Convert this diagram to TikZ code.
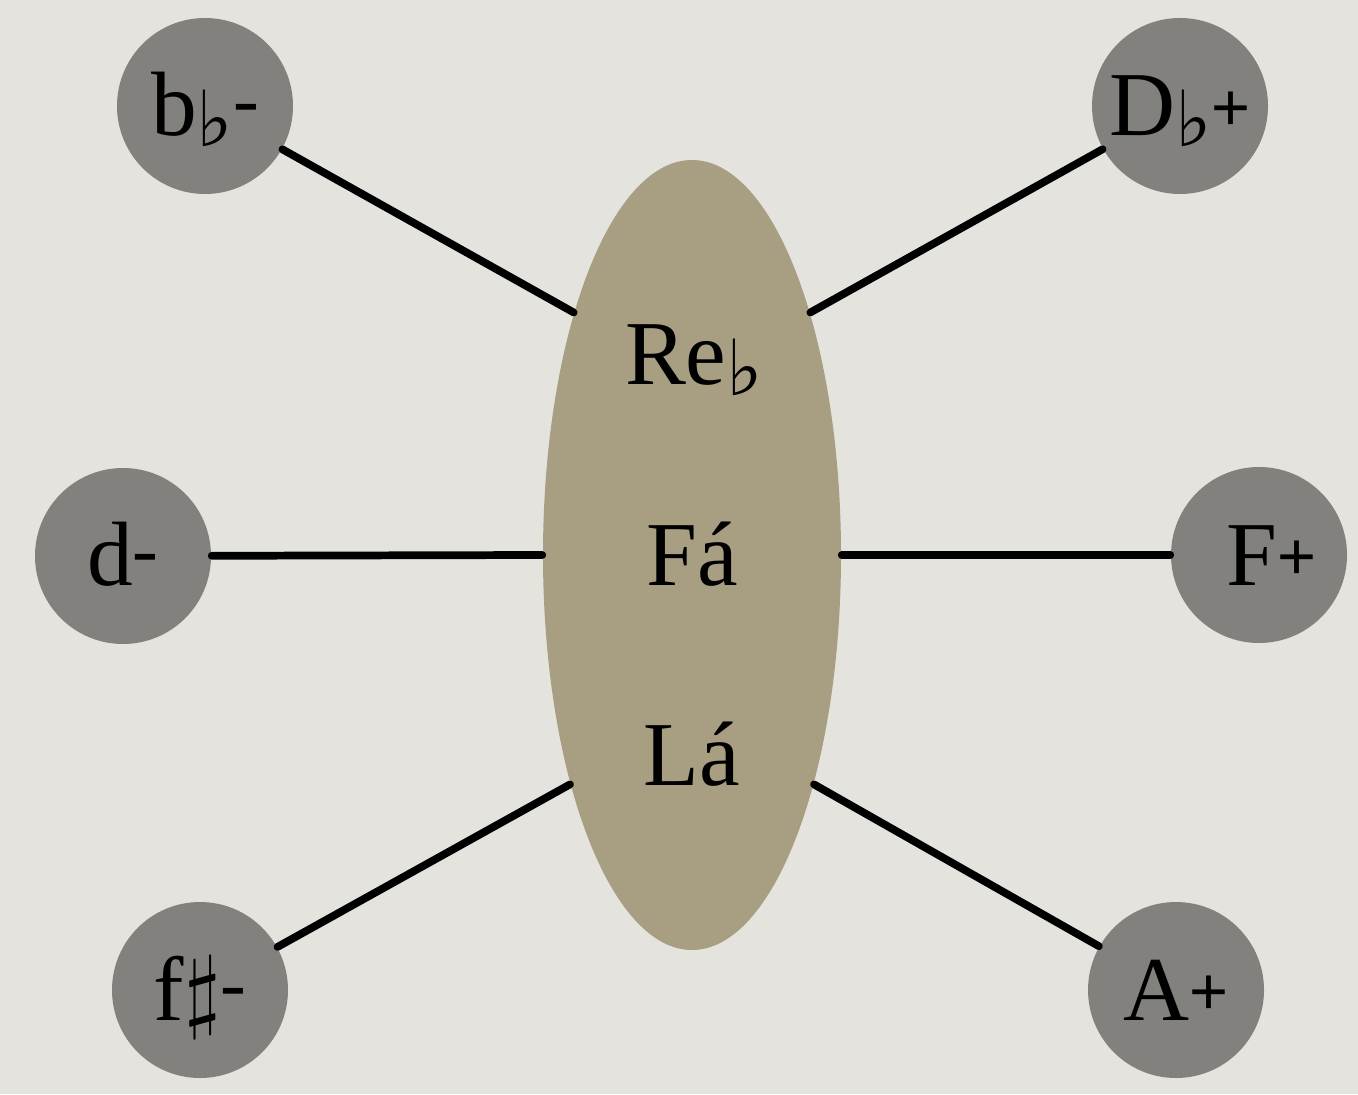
\documentclass[tikz,border=0pt]{standalone}
\usepackage{fontspec}
\usepackage{graphicx}
\setmainfont{Liberation Serif}
\newfontfamily\musicfont{DejaVu Sans}
\newfontfamily\signfont{Liberation Sans}
\usetikzlibrary{shapes.geometric}
\newcommand\flt{\raisebox{-3pt}{\musicfont\fontsize{22}{22}\selectfont ♭}}
\newcommand\shp{\raisebox{0pt}{\fontsize{24.88}{28}\selectfont\scalebox{1.1}[1.05]{$\sharp$}}}
\newcommand\mn{\raisebox{3pt}{\fontsize{22}{22}\selectfont -}}
\newcommand\pl{\raisebox{1.5pt}{\signfont\fontsize{19}{19}\selectfont +}}
\definecolor{paper}{HTML}{E5E3DE}
\definecolor{keygray}{HTML}{83817D}
\definecolor{chordtan}{HTML}{A89E82}
\begin{document}
\begin{tikzpicture}[x=1cm,y=1cm,font=\fontsize{26}{30}\selectfont,
  key/.style={circle, fill=keygray, minimum size=1.76cm, inner sep=0pt, text height=0.6cm, text depth=0pt},
  brush/.style={line width=2.2pt, black, line cap=round},
  tone/.style={anchor=base}]
\fill[paper] (0,0) rectangle (13.58,10.94);
\useasboundingbox (0,0) rectangle (13.58,10.94);
% chord
\node[ellipse, fill=chordtan, minimum width=2.98cm, minimum height=7.90cm, inner sep=0pt] (e) at (6.92,5.39) {};
\node[tone] (reb) at (6.94,7.09) {Re\flt};
\node[tone] (fa) at (6.92,5.09) {Fá};
\node[tone] (la) at (6.92,3.09) {Lá};
% keys
\node[key] (bbm) at (2.05,9.88) {b\flt\mn};
\node[key] (dbp) at (11.80,9.88) {D\flt\pl};
\node[key] (dm) at (1.23,5.38) {d\mn};
\node[key] (fp) at (12.59,5.39) {\hspace{0.25cm}F\pl};
\node[key] (fsm) at (2.00,1.04) {f\shp\mn};
\node[key] (ap) at (11.76,1.04) {A\pl};
% links
\draw[brush] (bbm) -- (e.116);
\draw[brush] (dbp) -- (e.64);
\draw[brush] (dm) -- (e.180);
\draw[brush] (fp) -- (e.0);
\draw[brush] (fsm) -- (e.242);
\draw[brush] (ap) -- (e.298);
\end{tikzpicture}
\end{document}
